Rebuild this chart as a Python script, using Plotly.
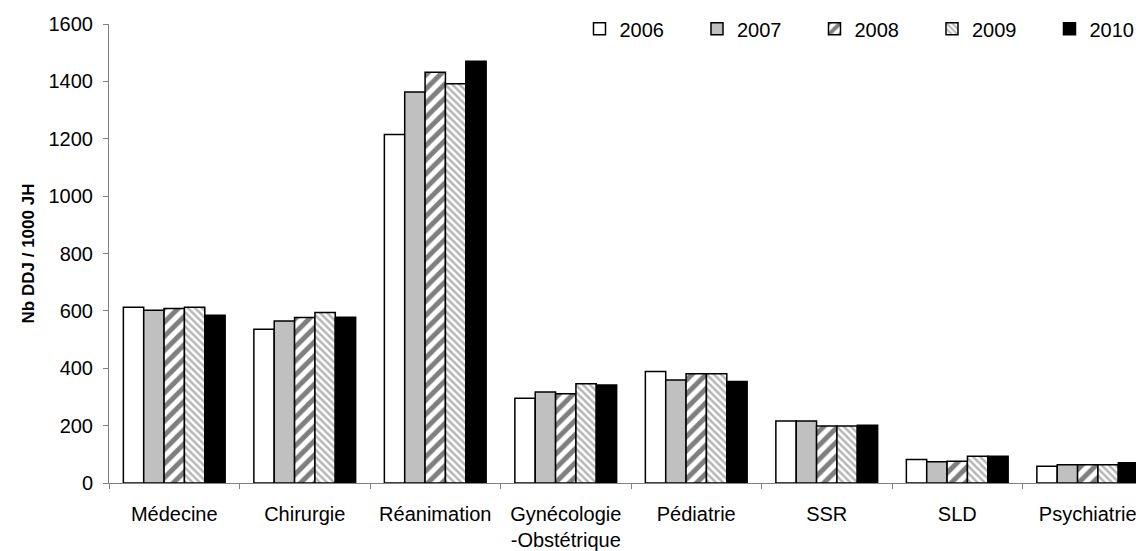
import plotly.graph_objects as go

categories = ["Médecine", "Chirurgie", "Réanimation", "Gynécologie<br>-Obstétrique",
              "Pédiatrie", "SSR", "SLD", "Psychiatrie"]
years = ["2006", "2007", "2008", "2009", "2010"]
v2006 = [613, 536, 1215, 295, 389, 216, 82, 58]
v2007 = [602, 565, 1363, 317, 359, 216, 74, 64]
v2008 = [608, 577, 1432, 311, 381, 199, 76, 64]
v2009 = [613, 594, 1392, 346, 381, 199, 93, 64]
v2010 = [585, 578, 1470, 342, 354, 201, 93, 71]
series = [v2006, v2007, v2008, v2009, v2010]

styles = [
    dict(color="white"),
    dict(color="#C0C0C0"),
    dict(color="white", pattern=dict(shape="/", fgcolor="black", bgcolor="white", size=10, solidity=0.5)),
    dict(color="white", pattern=dict(shape="\\", fgcolor="#6E6E6E", bgcolor="white", size=5, solidity=0.5)),
    dict(color="black"),
]

fig = go.Figure()
for y, vals, st in zip(years, series, styles):
    fig.add_trace(go.Bar(x=categories, y=vals, name=y,
                         marker=dict(line=dict(color="black", width=1.5), **st)))

font = "Liberation Sans, Arial, sans-serif"
fig.update_layout(
    width=1136, height=543,
    margin=dict(l=101, r=0, t=15.5, b=67.5, autoexpand=False),
    paper_bgcolor="white", plot_bgcolor="white",
    barmode="group", bargap=0.22, bargroupgap=0,
    font=dict(family=font, size=20, color="black"),
    showlegend=True,
    legend=dict(orientation="h", x=1.0227, xanchor="right", y=1.032, yanchor="top",
                font=dict(size=20), entrywidth=72.5, itemwidth=30,
                bgcolor="rgba(0,0,0,0)", traceorder="normal"),
    xaxis=dict(range=[-0.5, 7.431], showline=True, linecolor="#808080", linewidth=1,
               ticks="outside", tickson="boundaries", ticklen=5, tickcolor="#808080",
               showgrid=False, tickfont=dict(size=20), automargin=False,
               ticklabelstandoff=13),
    yaxis=dict(range=[0, 1600], tickvals=[0, 200, 400, 600, 800, 1000, 1200, 1400, 1600],
               showline=True, linecolor="#808080", linewidth=1,
               ticks="outside", ticklen=5, tickcolor="#808080", showgrid=False,
               zeroline=False, tickfont=dict(size=20), automargin=False,
               ticklabelstandoff=6,
               title=dict(text="<b>Nb DDJ / 1000 JH</b>", font=dict(size=17), standoff=9)),
)

fig.write_html("out.html")
